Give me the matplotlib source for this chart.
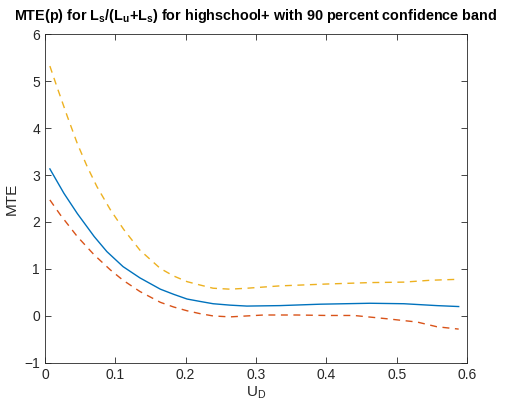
import matplotlib
matplotlib.use("Agg")
import matplotlib.pyplot as plt

plt.rcParams["font.family"] = ["Liberation Sans", "DejaVu Sans"]
plt.rcParams["mathtext.fontset"] = "custom"
plt.rcParams["mathtext.rm"] = "Liberation Sans"
plt.rcParams["mathtext.bf"] = "Liberation Sans:bold"

# MTE estimate (solid) with upper / lower 90% band (dashed)
u_mte = [0.007, 0.027, 0.046, 0.070, 0.088, 0.111, 0.135, 0.164, 0.183,
         0.202, 0.220, 0.239, 0.263, 0.287, 0.334, 0.391, 0.462, 0.510, 0.557, 0.588]
mte = [3.13, 2.61, 2.18, 1.69, 1.37, 1.05, 0.81, 0.57, 0.46,
       0.36, 0.31, 0.26, 0.23, 0.21, 0.22, 0.25, 0.27, 0.26, 0.22, 0.20]

u_upper = [0.007, 0.017, 0.032, 0.046, 0.060, 0.074, 0.093, 0.112, 0.135,
           0.164, 0.183, 0.202, 0.220, 0.239, 0.263, 0.287, 0.334, 0.401, 0.462,
           0.510, 0.548, 0.588]
upper = [5.32, 4.88, 4.24, 3.67, 3.18, 2.75, 2.26, 1.84, 1.40,
         1.01, 0.85, 0.73, 0.66, 0.59, 0.57, 0.59, 0.64, 0.68, 0.71,
         0.72, 0.76, 0.78]

u_lower = [0.007, 0.022, 0.046, 0.070, 0.093, 0.111, 0.135, 0.164, 0.183, 0.202,
           0.220, 0.239, 0.263, 0.311, 0.358, 0.401, 0.439, 0.486, 0.529, 0.557, 0.588]
lower = [2.47, 2.15, 1.69, 1.30, 0.98, 0.76, 0.52, 0.29, 0.19, 0.11,
         0.05, 0.00, -0.02, 0.02, 0.02, 0.01, 0.01, -0.06, -0.13, -0.23, -0.28]

xticks = [0, 0.1, 0.2, 0.3, 0.4, 0.5, 0.6]
xticklabels = ["0", "0.1", "0.2", "0.3", "0.4", "0.5", "0.6"]
yticks = [-1, 0, 1, 2, 3, 4, 5, 6]

fig = plt.figure(figsize=(5.05, 4.11), dpi=100)
ax = fig.add_axes([0.089, 0.117, 0.836, 0.800])

ax.plot(u_mte, mte, color="#0072BD", linewidth=1.0)
ax.plot(u_lower, lower, color="#D95319", linewidth=1.0, linestyle=(0, (5, 4)))
ax.plot(u_upper, upper, color="#EDB120", linewidth=1.0, linestyle=(0, (5, 4)))

ax.set_xlim(0, 0.6)
ax.set_ylim(-1, 6)
ax.set_xticks(xticks)
ax.set_xticklabels(xticklabels)
ax.set_yticks(yticks)

ax.tick_params(direction="in", top=True, right=True, length=4, width=0.6,
               labelsize=10, colors="#262626")
for s in ax.spines.values():
    s.set_color("#262626")
    s.set_linewidth(0.6)

ax.set_xlabel(r"U$_\mathrm{D}$", fontsize=11, color="#262626", labelpad=2)
ax.set_ylabel("MTE", fontsize=11, color="#262626", labelpad=4)
ax.set_title(r"MTE(p) for L$_\mathbf{s}$/(L$_\mathbf{u}$+L$_\mathbf{s}$) for highschool+ with 90 percent confidence band",
             fontsize=10.4, fontweight="bold", pad=10)

fig.savefig("out.png", dpi=100)
